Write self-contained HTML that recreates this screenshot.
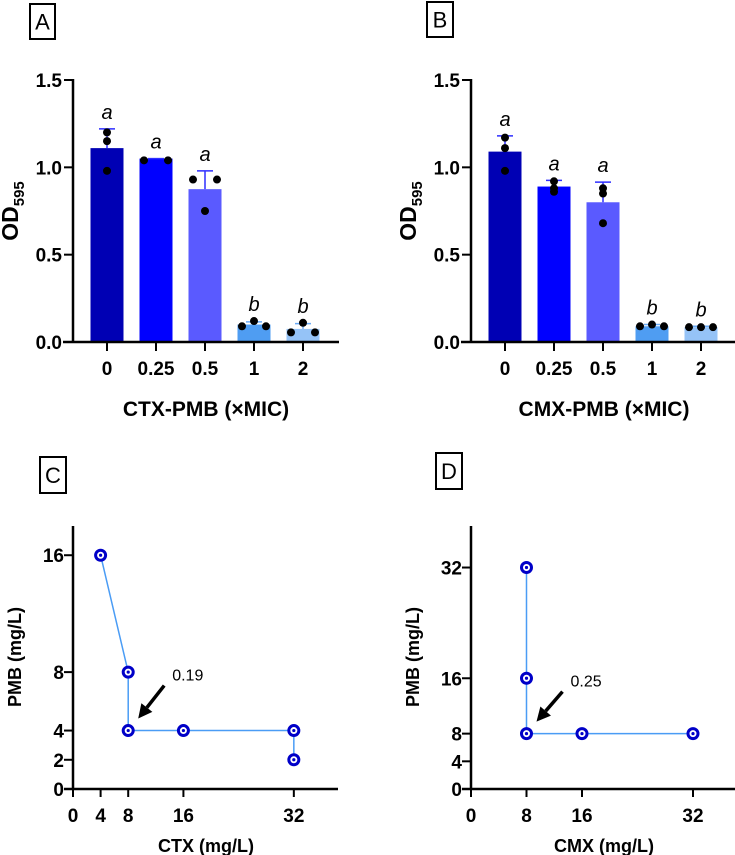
<!DOCTYPE html>
<html><head><meta charset="utf-8">
<style>
html,body{margin:0;padding:0;background:#fff;}
svg{display:block;font-family:"Liberation Sans",Arial,sans-serif;}
.tk{font-weight:bold;font-size:19px;}
</style></head>
<body>
<svg id="fig" width="735" height="855" viewBox="0 0 735 855"></svg>
<script>
// Panel A data
const barCats = ["0","0.25","0.5","1","2"];
const aMeans = [1.11,1.05,0.875,0.10,0.075];
const aErr = [1.22,1.05,0.98,0.115,0.105];
const aDots = [[1.20,1.15,0.98],[1.04,1.04],[0.93,0.93,0.75],[0.09,0.12,0.09],[0.055,0.11,0.055]];
const aLetters = ["a","a","a","b","b"];
// Panel B data
const bMeans = [1.09,0.89,0.80,0.09,0.085];
const bErr = [1.18,0.925,0.915,0.10,0.09];
const bDots = [[1.17,1.11,0.98],[0.92,0.88,0.86],[0.88,0.85,0.68],[0.09,0.10,0.09],[0.085,0.085,0.085]];
const bLetters = ["a","a","a","b","b"];
const barYTicks = [0,0.5,1.0,1.5];
const barYTickLabels = ["0.0","0.5","1.0","1.5"];
// Panel C data
const cX = [4,8,8,16,32,32];
const cY = [16,8,4,4,4,2];
const cXTicks = [0,4,8,16,32];
const cYTicks = [0,2,4,8,16];
const cFic = "0.19";
// Panel D data
const dX = [8,8,8,16,32];
const dY = [32,16,8,8,8];
const dXTicks = [0,8,16,32];
const dYTicks = [0,4,8,16,32];
const dFic = "0.25";

const barColors = ["#0000b4","#0000ff","#5a5aff","#4f9df2","#95c3f7"];
const NS = "http://www.w3.org/2000/svg";
const svg = document.getElementById("fig");
function mk(tag, attrs, parent, text){
  const e = document.createElementNS(NS, tag);
  for (const k in attrs) e.setAttribute(k, attrs[k]);
  if (text !== undefined) e.textContent = text;
  (parent || svg).appendChild(e);
  return e;
}

function panelLabel(x,y,w,h,t,name){
  const g = mk("g",{});
  
  
  mk("rect",{x:x,y:y,width:w,height:h,fill:"#fff",stroke:"#000","stroke-width":2},g);
  mk("text",{x:x+w/2,y:y+h/2+8,"text-anchor":"middle","font-size":22},g,t);
}

// horizontal spread layout for replicate dots (stacked vs spread)
function dotOffsets(vals, stacked){
  const n = vals.length;
  if (stacked) return vals.map(()=>0);
  if (n === 2) return [-12, 12];
  if (vals[0] === vals[1]) return [-12, 12, 0];
  return [-12, 0, 12];
}

function barPanel(ox, means, errs, dots, letters, stackedIdx, xtitle, pname){
  const g = mk("g",{});
  
  
  const y0 = 342, y15 = 80;
  const ys = v => y0 - v*(y0-y15)/1.5;
  const xs = i => ox + 34 + i*49;
  const axisX = ox;
  means.forEach((m,i)=>{
    const cx = xs(i);
    const r = mk("rect",{x:cx-16.5,y:ys(m),width:33,height:y0-ys(m),fill:barColors[i]},g);
    
    
    const eb = mk("path",{d:`M${cx},${ys(m)} V${ys(errs[i])} M${cx-8},${ys(errs[i])} H${cx+8}`,stroke:i>=3?"#6aaaf5":"#2f2fff","stroke-width":1.5,fill:"none"},g);
    
    
    const offs = dotOffsets(dots[i], stackedIdx.includes(i));
    dots[i].forEach((d,j)=>{
      const c = mk("circle",{cx:cx+offs[j],cy:ys(d),r:4,fill:"#000"},g);
      
      
    });
    const top = Math.max(errs[i], ...dots[i]);
    const lt = mk("text",{x:cx,y:ys(top)-10,"text-anchor":"middle","font-size":20,"font-style":"italic"},g,letters[i]);
    
    
    mk("line",{x1:cx,y1:y0,x2:cx,y2:y0+9,stroke:"#000","stroke-width":2},g);
    const tl = mk("text",{x:cx,y:375,"text-anchor":"middle",class:"tk"},g,barCats[i]);
    
    
  });
  mk("line",{x1:axisX,y1:y15-1,x2:axisX,y2:y0+1,stroke:"#000","stroke-width":2.5},g);
  mk("line",{x1:axisX-10,y1:y0,x2:ox+266,y2:y0,stroke:"#000","stroke-width":2.5},g);
  barYTicks.forEach((v,k)=>{
    mk("line",{x1:axisX-9,y1:ys(v),x2:axisX,y2:ys(v),stroke:"#000","stroke-width":2},g);
    const t = mk("text",{x:axisX-11,y:ys(v)+7,"text-anchor":"end",class:"tk"},g,barYTickLabels[k]);
    
    
  });
  const yt = mk("text",{transform:`translate(${axisX-55},211) rotate(-90)`,"text-anchor":"middle","font-weight":"bold","font-size":23},g);
  
  
  mk("tspan",{},yt,"OD");
  mk("tspan",{"font-size":15,dy:6},yt,"595");
  const xt = mk("text",{x:ox+133,y:416,"text-anchor":"middle","font-weight":"bold","font-size":21},g,xtitle);
  
  
}

function isoPanel(ox, xs_, ys_, xticks, yticks, xmax, ymax, fic, arrowFrom, xtitle, pname){
  const g = mk("g",{});
  
  
  const y0 = 789, yTop = 526, xEnd = ox+265;
  const sx = v => ox + v*(xEnd-ox)/xmax;
  const sy = v => y0 - v*(y0-yTop)/ymax;
  mk("line",{x1:ox,y1:yTop,x2:ox,y2:y0+1,stroke:"#000","stroke-width":2.5},g);
  mk("line",{x1:ox-9,y1:y0,x2:xEnd,y2:y0,stroke:"#000","stroke-width":2.5},g);
  xticks.forEach(v=>{
    mk("line",{x1:sx(v),y1:y0,x2:sx(v),y2:y0+8,stroke:"#000","stroke-width":2},g);
    const t = mk("text",{x:sx(v),y:822,"text-anchor":"middle",class:"tk"},g,String(v));
    
    
  });
  yticks.forEach(v=>{
    mk("line",{x1:ox-9,y1:sy(v),x2:ox,y2:sy(v),stroke:"#000","stroke-width":2},g);
    const t = mk("text",{x:ox-9,y:sy(v)+7,"text-anchor":"end",class:"tk"},g,String(v));
    
    
  });
  let d = "";
  xs_.forEach((v,i)=>{ d += (i?"L":"M")+sx(v)+","+sy(ys_[i]); });
  const ln = mk("path",{d:d,fill:"none",stroke:"#4a9cf5","stroke-width":1.5},g);
  
  
  xs_.forEach((v,i)=>{
    const c = mk("circle",{cx:sx(v),cy:sy(ys_[i]),r:5,fill:"#fff",stroke:"#0000c8","stroke-width":3},g);
    
    
    mk("circle",{cx:sx(v),cy:sy(ys_[i]),r:1.6,fill:"#0000c8"},g);
  });
  const tx = sx(8)+10, ty = sy(Math.min(...ys_.filter((y,i)=>xs_[i]===8)))-12;
  const fx = tx+arrowFrom[0], fy = ty+arrowFrom[1];
  const ang = Math.atan2(ty-fy, tx-fx);
  const hx = tx - 14*Math.cos(ang), hy = ty - 14*Math.sin(ang);
  const ar = mk("g",{},g);
  
  
  mk("line",{x1:fx,y1:fy,x2:hx,y2:hy,stroke:"#000","stroke-width":3.5},ar);
  const px = -Math.sin(ang), py = Math.cos(ang);
  mk("polygon",{points:`${tx},${ty} ${hx+7*px},${hy+7*py} ${hx-7*px},${hy-7*py}`,fill:"#000"},ar);
  const fl = mk("text",{x:fx+8,y:fy-5,"font-size":16},g,fic);
  
  
  const yt = mk("text",{transform:`translate(${ox-52},657) rotate(-90)`,"text-anchor":"middle","font-weight":"bold","font-size":18},g,"PMB (mg/L)");
  
  
  const xt = mk("text",{x:ox+133,y:852,"text-anchor":"middle","font-weight":"bold","font-size":18},g,xtitle);
  
  
}

panelLabel(30,4,25,35,"A","panel-label-a");
panelLabel(427,2,26,35,"B","panel-label-b");
panelLabel(40,457,26,36,"C","panel-label-c");
panelLabel(436,453,26,36,"D","panel-label-d");
barPanel(73, aMeans, aErr, aDots, aLetters, [0], "CTX-PMB (\u00d7MIC)", "chart-a");
barPanel(471, bMeans, bErr, bDots, bLetters, [0,1,2], "CMX-PMB (\u00d7MIC)", "chart-b");
isoPanel(73, cX, cY, cXTicks, cYTicks, 38.4, 18, cFic, [26,-33], "CTX (mg/L)", "chart-c");
isoPanel(471, dX, dY, dXTicks, dYTicks, 38.2, 38, dFic, [26,-30], "CMX (mg/L)", "chart-d");
</script>
</body></html>
